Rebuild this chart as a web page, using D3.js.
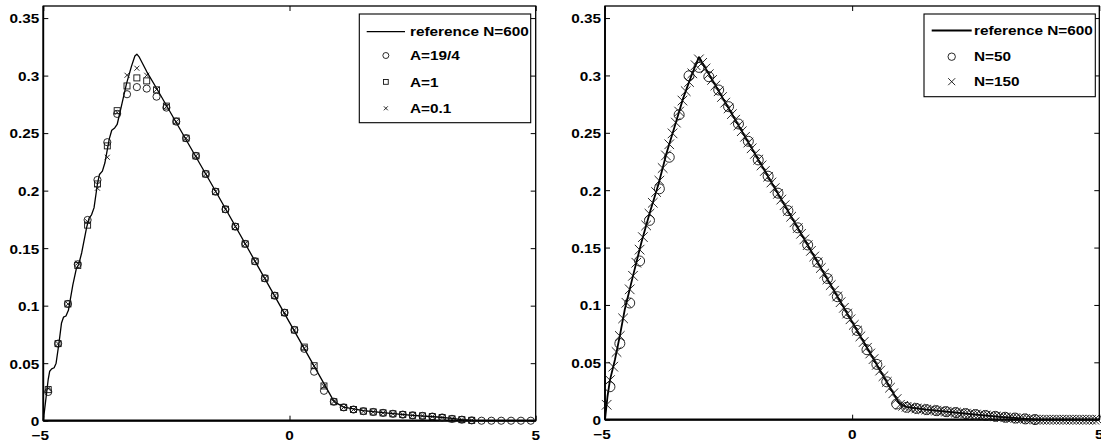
<!DOCTYPE html>
<html>
<head>
<meta charset="utf-8">
<script src="https://cdn.jsdelivr.net/npm/d3@7"></script>
<style>
  body { margin: 0; background: #fff; }
  svg text {
    font-family: "Liberation Sans", Arial, Helvetica, sans-serif;
    font-weight: bold;
    font-size: 13px;
    fill: #000;
  }
</style>
</head>
<body>
<div id="chart"></div>
<script>
// ticks
const xTicks = [-5, 0, 5];
const xTickLabels = ["\u22125", "0", "5"];
const yTicks = [0, 0.05, 0.1, 0.15, 0.2, 0.25, 0.3, 0.35];
const yTickLabels = ["0", "0.05", "0.1", "0.15", "0.2", "0.25", "0.3", "0.35"];

// cell centres of the N=50 grid
const x50 = [-4.9, -4.7, -4.5, -4.3, -4.1, -3.9, -3.7, -3.5, -3.3, -3.1,
  -2.9, -2.7, -2.5, -2.3, -2.1, -1.9, -1.7, -1.5, -1.3, -1.1,
  -0.9, -0.7, -0.5, -0.3, -0.1, 0.1, 0.3, 0.5, 0.7, 0.9,
  1.1, 1.3, 1.5, 1.7, 1.9, 2.1, 2.3, 2.5, 2.7, 2.9,
  3.1, 3.3, 3.5, 3.7, 3.9, 4.1, 4.3, 4.5, 4.7, 4.9];

// cell centres of the N=150 grid
const x150 = [-4.9667, -4.9, -4.8333, -4.7667, -4.7, -4.6333, -4.5667, -4.5, -4.4333, -4.3667,
  -4.3, -4.2333, -4.1667, -4.1, -4.0333, -3.9667, -3.9, -3.8333, -3.7667, -3.7,
  -3.6333, -3.5667, -3.5, -3.4333, -3.3667, -3.3, -3.2333, -3.1667, -3.1, -3.0333,
  -2.9667, -2.9, -2.8333, -2.7667, -2.7, -2.6333, -2.5667, -2.5, -2.4333, -2.3667,
  -2.3, -2.2333, -2.1667, -2.1, -2.0333, -1.9667, -1.9, -1.8333, -1.7667, -1.7,
  -1.6333, -1.5667, -1.5, -1.4333, -1.3667, -1.3, -1.2333, -1.1667, -1.1, -1.0333,
  -0.9667, -0.9, -0.8333, -0.7667, -0.7, -0.6333, -0.5667, -0.5, -0.4333, -0.3667,
  -0.3, -0.2333, -0.1667, -0.1, -0.0333, 0.0333, 0.1, 0.1667, 0.2333, 0.3,
  0.3667, 0.4333, 0.5, 0.5667, 0.6333, 0.7, 0.7667, 0.8333, 0.9, 0.9667,
  1.0333, 1.1, 1.1667, 1.2333, 1.3, 1.3667, 1.4333, 1.5, 1.5667, 1.6333,
  1.7, 1.7667, 1.8333, 1.9, 1.9667, 2.0333, 2.1, 2.1667, 2.2333, 2.3,
  2.3667, 2.4333, 2.5, 2.5667, 2.6333, 2.7, 2.7667, 2.8333, 2.9, 2.9667,
  3.0333, 3.1, 3.1667, 3.2333, 3.3, 3.3667, 3.4333, 3.5, 3.5667, 3.6333,
  3.7, 3.7667, 3.8333, 3.9, 3.9667, 4.0333, 4.1, 4.1667, 4.2333, 4.3,
  4.3667, 4.4333, 4.5, 4.5667, 4.6333, 4.7, 4.7667, 4.8333, 4.9, 4.9667];

// left panel: reference line N=600
const refLeftX = [-5, -4.95, -4.9, -4.87, -4.83, -4.78, -4.74, -4.68, -4.63, -4.59, -4.54, -4.49,
  -4.40, -4.33, -4.28, -4.22, -4.12, -4.07, -4.02, -3.97, -3.90, -3.86, -3.80, -3.75,
  -3.66, -3.61, -3.55, -3.50, -3.40, -3.31, -3.21, -3.14, -3.10, -3.05, -2.9, -2.7,
  -1.5, 0.0, 0.88, 0.95, 1.1, 1.5, 2.0, 2.5, 3.0, 3.3, 3.5, 3.7, 4.0, 5.0];
const refLeftY = [0, 0.018, 0.036, 0.043, 0.045, 0.046, 0.050, 0.068, 0.085, 0.090, 0.091, 0.096,
  0.118, 0.132, 0.136, 0.146, 0.168, 0.176, 0.179, 0.185, 0.206, 0.214, 0.217, 0.224,
  0.245, 0.2525, 0.2545, 0.2575, 0.276, 0.293, 0.308, 0.317, 0.3186, 0.316, 0.3035, 0.289,
  0.1995, 0.0855, 0.0185, 0.0155, 0.0118, 0.0088, 0.0066, 0.0047, 0.0032, 0.0020, 0.0010, 0.0002, 0, 0];

// left panel: A=19/4 (circles), A=1 (squares), A=0.1 (crosses)
const a194 = [0.025, 0.067, 0.1015, 0.136, 0.1745, 0.2093, 0.2421, 0.2667, 0.2838, 0.290,
  0.2887, 0.2817, 0.2722, 0.260, 0.2456, 0.2302, 0.2145, 0.1991, 0.1838, 0.1687,
  0.1537, 0.1386, 0.1238, 0.1087, 0.0939, 0.0789, 0.0625, 0.0426, 0.026, 0.0165,
  0.0116, 0.0097, 0.0083, 0.0076, 0.0068, 0.006, 0.0053, 0.0047, 0.0042, 0.0036,
  0.0028, 0.0016, 0.0009, 0.0003, 0, 0, 0, 0, 0, 0];
const a1 = [0.027, 0.067, 0.1015, 0.135, 0.170, 0.2058, 0.2389, 0.2695, 0.291, 0.298,
  0.2954, 0.2876, 0.2735, 0.2605, 0.2456, 0.2302, 0.2145, 0.1991, 0.1838, 0.1687,
  0.1537, 0.1386, 0.1238, 0.1087, 0.0939, 0.0789, 0.064, 0.0478, 0.0302, 0.0165,
  0.0116, 0.0097, 0.0083, 0.0076, 0.0068, 0.006, 0.0053, 0.0047, 0.0042, 0.0036,
  0.0028, 0.0016, 0.0009, 0.0003];
const a01 = [0.028, 0.067, 0.1015, 0.137, 0.173, 0.2021, 0.229, 0.268, 0.3003, 0.3064,
  0.3003, 0.288, 0.273, 0.260, 0.2456, 0.2302, 0.2145, 0.1991, 0.1838, 0.1687,
  0.1537, 0.1386, 0.1238, 0.1087, 0.0939, 0.0789, 0.063, 0.0475, 0.030, 0.0165,
  0.0116, 0.0097, 0.0083, 0.0076, 0.0068, 0.006, 0.0053, 0.0047, 0.0042, 0.0036,
  0.0028, 0.0016, 0.0009, 0.0003];

// right panel: reference line N=600
const refRightX = [-5, -4.95, -4.9, -4.8, -4.7, -4.6, -4.43, -4.26, -4.09, -3.92, -3.75, -3.58,
  -3.42, -3.25, -3.1, -3.05, 0.95, 1.1, 1.5, 2.0, 2.5, 3.0, 3.5, 3.75, 5];
const refRightY = [0, 0.02, 0.0345, 0.052, 0.073, 0.096, 0.126, 0.155, 0.181, 0.205, 0.233, 0.257,
  0.280, 0.300, 0.316, 0.3125, 0.0143, 0.0112, 0.0088, 0.0066, 0.0045, 0.0025, 0.0008, 0, 0];

// right panel: N=50 (circles), N=150 (crosses)
const n50 = [0.0287, 0.0664, 0.1017, 0.1383, 0.1737, 0.2012, 0.2287, 0.2658, 0.2997, 0.307,
  0.2989, 0.2873, 0.2728, 0.2577, 0.2426, 0.2264, 0.2122, 0.1974, 0.1822, 0.1672,
  0.1523, 0.1372, 0.1230, 0.1072, 0.0925, 0.0778, 0.0610, 0.0482, 0.0330, 0.0137,
  0.0108, 0.0098, 0.0088, 0.0079, 0.0070, 0.0062, 0.0053, 0.0045, 0.0037, 0.0029,
  0.0021, 0.0014, 0.0007, 0.0001];
const n150 = [0.013, 0.0345, 0.0462, 0.059, 0.073, 0.0883, 0.1019, 0.1136, 0.1254, 0.1368,
  0.1482, 0.1591, 0.1693, 0.1795, 0.189, 0.1984, 0.2083, 0.2193, 0.2303, 0.240,
  0.2495, 0.2589, 0.2685, 0.2781, 0.2863, 0.2942, 0.3018, 0.3089, 0.314, 0.311,
  0.3061, 0.3011, 0.2961, 0.2912, 0.2862, 0.2812, 0.2763, 0.2713, 0.2663, 0.2614,
  0.2564, 0.2514, 0.2465, 0.2415, 0.2365, 0.2316, 0.2266, 0.2216, 0.2167, 0.2117,
  0.2067, 0.2018, 0.1968, 0.1918, 0.1869, 0.1819, 0.1769, 0.172, 0.167, 0.162,
  0.1571, 0.1521, 0.1471, 0.1422, 0.1372, 0.1322, 0.1273, 0.1223, 0.1173, 0.1124,
  0.1074, 0.1024, 0.0975, 0.0925, 0.0875, 0.0826, 0.0776, 0.0726, 0.0677, 0.0627,
  0.0577, 0.0528, 0.0478, 0.0428, 0.0379, 0.0329, 0.0279, 0.023, 0.018, 0.013,
  0.0121, 0.0112, 0.0107, 0.0102, 0.0098, 0.0094, 0.0091, 0.0088, 0.0085, 0.0082,
  0.0079, 0.0076, 0.0073, 0.007, 0.0067, 0.0065, 0.0062, 0.0059, 0.0056, 0.0053,
  0.005, 0.0047, 0.0045, 0.0042, 0.0039, 0.0037, 0.0034, 0.0031, 0.0029, 0.0026,
  0.0024, 0.0021, 0.0019, 0.0016, 0.0014, 0.0011, 0.0009, 0.0007, 0.0005, 0.0003,
  0.0001, 0, 0, 0, 0, 0, 0, 0, 0, 0,
  0, 0, 0, 0, 0, 0, 0, 0, 0, 0];

const stretch = 1.18; // the original text is a bit wider than Arial

const svg = d3.select("#chart").append("svg")
  .attr("width", 1101)
  .attr("height", 443);

function label(g, x, y, txt, anchor) {
  g.append("text")
    .attr("transform", "translate(" + x + "," + y + ")scale(" + stretch + ",1)")
    .attr("text-anchor", anchor)
    .attr("dy", "0.36em")
    .text(txt);
}

function drawMarkers(g, x, y, xs, ys, shape, size, sw) {
  const pts = d3.zip(xs, ys);
  if (shape === "o") {
    g.selectAll(null).data(pts).enter().append("circle")
      .attr("cx", d => x(d[0]))
      .attr("cy", d => y(d[1]))
      .attr("r", size)
      .attr("fill", "none")
      .attr("stroke", "#111")
      .attr("stroke-width", sw);
  } else if (shape === "s") {
    g.selectAll(null).data(pts).enter().append("rect")
      .attr("x", d => x(d[0]) - size)
      .attr("y", d => y(d[1]) - size)
      .attr("width", size * 2)
      .attr("height", size * 2)
      .attr("fill", "none")
      .attr("stroke", "#111")
      .attr("stroke-width", sw);
  } else {
    g.selectAll(null).data(pts).enter().append("path")
      .attr("d", function (d) {
        const cx = x(d[0]), cy = y(d[1]);
        return "M" + (cx - size) + "," + (cy - size) + "L" + (cx + size) + "," + (cy + size) +
          "M" + (cx - size) + "," + (cy + size) + "L" + (cx + size) + "," + (cy - size);
      })
      .attr("fill", "none")
      .attr("stroke", "#111")
      .attr("stroke-width", sw);
  }
}

function drawPanel(p) {
  const g = svg.append("g");
  const x = d3.scaleLinear().domain([-5, 5]).range([p.left, p.right]);
  const y = d3.scaleLinear().domain([0, 0.3605]).range([p.bottom, p.top]);

  // inward ticks on all four sides
  g.append("g").attr("transform", "translate(0," + p.bottom + ")")
    .call(d3.axisBottom(x).tickValues(xTicks).tickSize(-5).tickSizeOuter(0).tickFormat(""));
  g.append("g").attr("transform", "translate(0," + p.top + ")")
    .call(d3.axisTop(x).tickValues(xTicks).tickSize(-5).tickSizeOuter(0).tickFormat(""));
  g.append("g").attr("transform", "translate(" + p.left + ",0)")
    .call(d3.axisLeft(y).tickValues(yTicks).tickSize(-5).tickSizeOuter(0).tickFormat(""));
  g.append("g").attr("transform", "translate(" + p.right + ",0)")
    .call(d3.axisRight(y).tickValues(yTicks).tickSize(-5).tickSizeOuter(0).tickFormat(""));
  g.selectAll(".domain").remove();
  g.selectAll(".tick line").attr("stroke", "#000").attr("stroke-width", 1);

  // box
  g.append("rect")
    .attr("x", p.left).attr("y", p.top)
    .attr("width", p.right - p.left).attr("height", p.bottom - p.top)
    .attr("fill", "none").attr("stroke", "#000").attr("stroke-width", 1.3);
  g.append("line").attr("x1", p.left).attr("x2", p.right).attr("y1", p.bottom).attr("y2", p.bottom)
    .attr("stroke", "#000").attr("stroke-width", 2.2);
  g.append("line").attr("x1", p.left).attr("x2", p.left).attr("y1", p.top).attr("y2", p.bottom)
    .attr("stroke", "#000").attr("stroke-width", 1.8);

  // tick labels
  yTicks.forEach((t, i) => label(g, p.left - 4, y(t) + 0.7, yTickLabels[i], "end"));
  xTicks.forEach((t, i) => label(g, x(t) - (i === 0 ? 3 : 0), p.bottom + 14.5, xTickLabels[i], "middle"));

  // reference line
  const line = d3.line().x(d => x(d[0])).y(d => y(d[1]));
  g.append("path")
    .datum(d3.zip(p.refX, p.refY))
    .attr("d", line)
    .attr("fill", "none")
    .attr("stroke", "#000")
    .attr("stroke-width", p.lineWidth)
    .attr("stroke-linejoin", "round");

  p.series.forEach(s => drawMarkers(g, x, y, s.xs, s.ys, s.shape, s.size, s.sw));

  // legend
  const lg = svg.append("g");
  lg.append("rect")
    .attr("x", p.legend.x).attr("y", p.legend.y)
    .attr("width", p.legend.w).attr("height", p.legend.h)
    .attr("fill", "#fff").attr("stroke", "#000").attr("stroke-width", 1.1);
  lg.append("line")
    .attr("x1", p.legend.lineX0).attr("x2", p.legend.lineX1)
    .attr("y1", p.legend.rows[0]).attr("y2", p.legend.rows[0])
    .attr("stroke", "#000").attr("stroke-width", p.lineWidth);
  label(lg, p.legend.textX, p.legend.rows[0], "reference N=600", "start");
  const mx = (p.legend.lineX0 + p.legend.lineX1) / 2;
  p.series.forEach((s, i) => {
    const ry = p.legend.rows[i + 1];
    const ident = d3.scaleLinear().domain([0, 1]).range([0, 1]);
    drawMarkers(lg, ident, ident, [mx], [ry], s.shape, s.legendSize, s.sw);
    label(lg, p.legend.textX, ry, s.name, "start");
  });
}

drawPanel({
  left: 43.3, right: 535.7, top: 6, bottom: 420.7,
  refX: refLeftX, refY: refLeftY, lineWidth: 1.3,
  series: [
    { name: "A=19/4", xs: x50, ys: a194, shape: "o", size: 3.6, legendSize: 3, sw: 0.9 },
    { name: "A=1", xs: x50, ys: a1, shape: "s", size: 3, legendSize: 2.4, sw: 0.9 },
    { name: "A=0.1", xs: x50, ys: a01, shape: "x", size: 2.5, legendSize: 2, sw: 0.9 }
  ],
  legend: { x: 359.3, y: 14, w: 171.4, h: 108.7, lineX0: 366.7, lineX1: 405, textX: 410,
    rows: [31.7, 55.5, 81.9, 108.3] }
});

drawPanel({
  left: 605, right: 1099.3, top: 6, bottom: 419.7,
  refX: refRightX, refY: refRightY, lineWidth: 1.8,
  series: [
    { name: "N=50", xs: x50, ys: n50, shape: "o", size: 5, legendSize: 3.7, sw: 0.9 },
    { name: "N=150", xs: x150, ys: n150, shape: "x", size: 4.8, legendSize: 3.5, sw: 0.9 }
  ],
  legend: { x: 924, y: 14, w: 171.3, h: 82.7, lineX0: 931.7, lineX1: 971.7, textX: 974,
    rows: [30.5, 56.7, 81.7] }
});
</script>
</body>
</html>
